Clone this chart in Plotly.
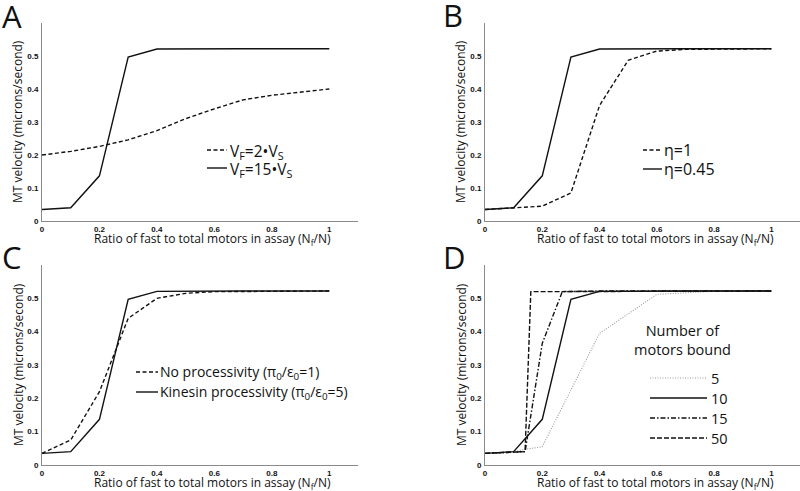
import plotly.graph_objects as go

# ---------------- data ----------------
ratio = [0, 0.1, 0.2, 0.3, 0.4, 0.5, 0.6, 0.7, 0.8, 0.9, 1.0]

# Panel A
vf15 = [0.035, 0.040, 0.137, 0.497, 0.521, 0.522, 0.522, 0.522, 0.522, 0.522, 0.522]
vf2 = [0.200, 0.211, 0.226, 0.246, 0.274, 0.310, 0.340, 0.367, 0.381, 0.390, 0.400]

# Panel B
eta045 = vf15
eta1 = [0.035, 0.040, 0.045, 0.085, 0.350, 0.487, 0.515, 0.520, 0.521, 0.522, 0.522]

# Panel C
kin_proc = vf15
no_proc = [0.035, 0.075, 0.220, 0.440, 0.500, 0.515, 0.520, 0.521, 0.522, 0.522, 0.522]

# Panel D
n5_x = [0, 0.1, 0.14, 0.2, 0.4, 0.6, 0.8, 1.0]
n5_y = [0.035, 0.040, 0.047, 0.055, 0.395, 0.512, 0.521, 0.522]
n10_x = ratio
n10_y = vf15
n15_x = [0, 0.1, 0.14, 0.2, 0.27, 0.4, 1.0]
n15_y = [0.035, 0.040, 0.040, 0.365, 0.520, 0.522, 0.522]
n50_x = [0, 0.1, 0.14, 0.16, 1.0]
n50_y = [0.035, 0.040, 0.040, 0.520, 0.522]

y_ticks = [0, 0.1, 0.2, 0.3, 0.4, 0.5]
x_ticks = [0, 0.2, 0.4, 0.6, 0.8, 1]
y_ticktext = ["0", "0.1", "0.2", "0.3", "0.4", "0.5"]
x_ticktext = ["0", "0.2", "0.4", "0.6", "0.8", "1"]

panel_letters = ["A", "B", "C", "D"]
legend_A = ["V<sub>F</sub>=2•V<sub>S</sub>", "V<sub>F</sub>=15•V<sub>S</sub>"]
legend_B = ["η=1", "η=0.45"]
legend_C = ["No processivity (π<sub>0</sub>/ε<sub>0</sub>=1)",
            "Kinesin processivity (π<sub>0</sub>/ε<sub>0</sub>=5)"]
legend_D_title = "Number of<br>motors bound"
legend_D = ["5", "10", "15", "50"]

xlabel = "Ratio of fast to total motors in assay (N<sub>f</sub>/N)"
ylabel = "MT velocity (microns/second)"

# ---------------- layout helpers ----------------
W, H = 800, 491
def px_x(p):
    return p / W
def px_y(p):
    return 1 - p / H

FONT = "Open Sans"
TICKFONT = "Liberation Sans"
BLACK = "#111111"
LW = 1.4
DASH = "4px,2.5px"
DASHDOT = "5px,2px,1.5px,2px"
LONGDASH = "5px,2px"
DOT = "1px,1.5px"

fig = go.Figure()

panels = {
    1: dict(x0=42, x1=358, ytop=23, ybot=221),
    2: dict(x0=485, x1=800, ytop=23, ybot=221),
    3: dict(x0=42, x1=358, ytop=265, ybot=465),
    4: dict(x0=485, x1=800, ytop=265, ybot=465),
}

def add(i, x, y, dash, color=BLACK, width=LW):
    xa = "x" if i == 1 else f"x{i}"
    ya = "y" if i == 1 else f"y{i}"
    fig.add_trace(go.Scatter(x=x, y=y, mode="lines", xaxis=xa, yaxis=ya,
                             line=dict(color=color, width=width, dash=dash),
                             showlegend=False, hoverinfo="skip"))

add(1, ratio, vf2, DASH)
add(1, ratio, vf15, "solid")
add(2, ratio, eta1, DASH)
add(2, ratio, eta045, "solid")
add(3, ratio, no_proc, DASH)
add(3, ratio, kin_proc, "solid")
add(4, n5_x, n5_y, DOT, color="#9a9a9a", width=1.1)
add(4, n10_x, n10_y, "solid")
add(4, n15_x, n15_y, DASHDOT)
add(4, n50_x, n50_y, LONGDASH)

axis_common = dict(showgrid=False, zeroline=False, showline=True, linecolor="#8a8a8a",
                   linewidth=1, ticks="", mirror=False, automargin=False,
                   tickfont=dict(family=TICKFONT, size=8, color=BLACK, weight="bold"))

for i, p in panels.items():
    sx = "" if i == 1 else str(i)
    fig.layout["xaxis" + sx] = dict(axis_common, domain=[px_x(p["x0"]), px_x(p["x1"])],
                                    range=[0, 1.1], tickvals=x_ticks, ticktext=x_ticktext,
                                    anchor="y" + sx)
    fig.layout["yaxis" + sx] = dict(axis_common, domain=[px_y(p["ybot"]), px_y(p["ytop"])],
                                    range=[0, 0.6], tickvals=y_ticks, ticktext=y_ticktext,
                                    anchor="x" + sx, ticklabelstandoff=1)

annotations = []
shapes = []

def text(x, y, s, size, xanchor="left", yanchor="middle", angle=0):
    annotations.append(dict(x=px_x(x), y=px_y(y), xref="paper", yref="paper", text=s,
                            showarrow=False, xanchor=xanchor, yanchor=yanchor,
                            textangle=angle, font=dict(family=FONT, size=size, color=BLACK)))

def sample(x0, x1, y, dash, color=BLACK, width=LW):
    shapes.append(dict(type="line", xref="paper", yref="paper",
                       x0=px_x(x0), x1=px_x(x1), y0=px_y(y), y1=px_y(y),
                       line=dict(color=color, width=width, dash=dash)))

# axis titles
for i, p in panels.items():
    xc = p["x0"] + (p["x1"] - p["x0"]) * 0.54
    text(xc, p["ybot"] + 18, xlabel, 12, xanchor="center")
    text(p["x0"] - 24, (p["ytop"] + p["ybot"]) / 2, ylabel, 12, xanchor="center", angle=-90)

# panel letters
text(0, 16, panel_letters[0], 31)
text(441, 15, panel_letters[1], 31)
text(0, 257, panel_letters[2], 31)
text(441, 257, panel_letters[3], 31)

# legend A
sample(207, 227, 150, DASH); text(228, 151, legend_A[0], 15.5)
sample(207, 227, 168, "solid"); text(228, 169, legend_A[1], 15.5)
# legend B
sample(643, 662, 150, DASH); text(662, 150, legend_B[0], 16)
sample(643, 662, 169, "solid"); text(662, 169, legend_B[1], 16)
# legend C
sample(136, 158, 372, DASH); text(158, 372, legend_C[0], 14)
sample(136, 158, 392, "solid"); text(158, 392, legend_C[1], 14)
# legend D
text(682, 340, legend_D_title, 14.5, xanchor="center")
sample(650, 707, 378, DOT, color="#9a9a9a", width=1.1); text(709, 378, legend_D[0], 14.5)
sample(650, 707, 398, "solid"); text(709, 398, legend_D[1], 14.5)
sample(650, 707, 418, DASHDOT); text(709, 418, legend_D[2], 14.5)
sample(650, 707, 438, LONGDASH); text(709, 438, legend_D[3], 14.5)

fig.update_layout(width=W, height=H, autosize=False, margin=dict(l=0, r=0, t=0, b=0),
                  paper_bgcolor="white", plot_bgcolor="white",
                  annotations=annotations, shapes=shapes,
                  font=dict(family=FONT, color=BLACK))

fig.write_html("out.html", config={"responsive": False, "displayModeBar": False},
               default_width="800px", default_height="491px",
               post_script="document.body.style.margin='0';document.body.style.overflow='hidden';")
